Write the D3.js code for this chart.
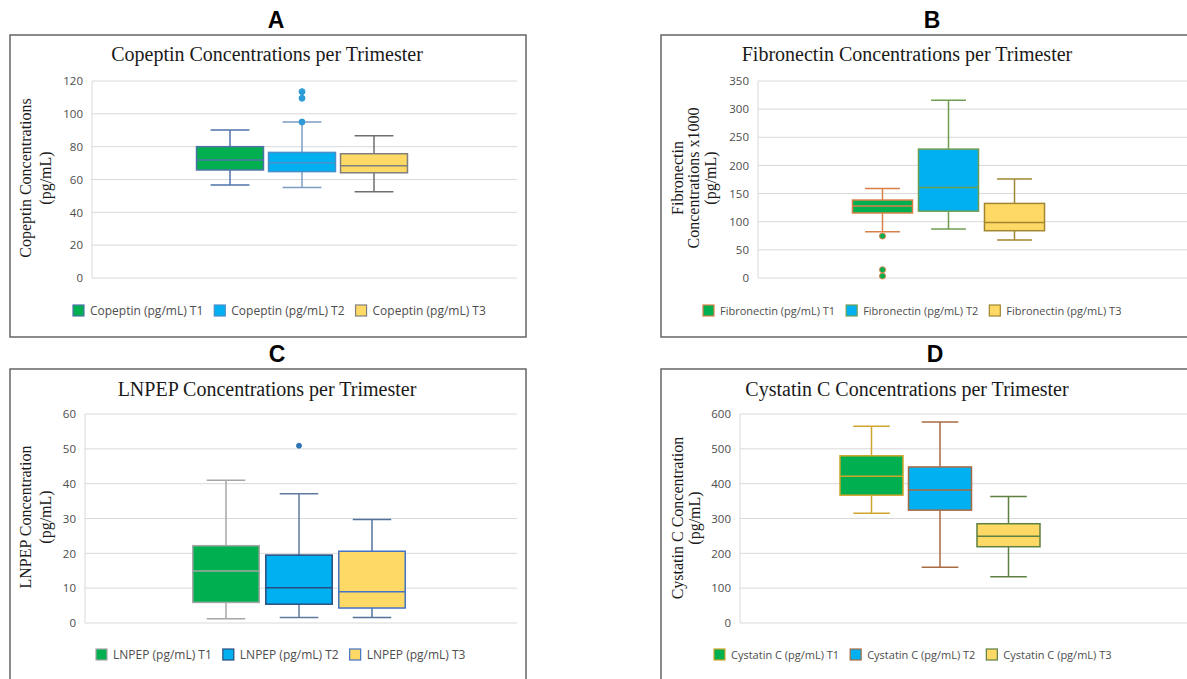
<!DOCTYPE html>
<html>
<head>
<meta charset="utf-8">
<script src="https://cdn.jsdelivr.net/npm/d3@7"></script>
<style>
  body { margin: 0; background: #fff; }
  svg { display: block; }
  .tick text { font-family: "Open Sans", sans-serif; font-size: 11.5px; fill: #4d4d4d; }
</style>
</head>
<body>
<div id="chart"></div>
<script>
/*series names shared by all four panels*/
var series = ["T1", "T2", "T3"];

/*box statistics: [low whisker, q1, median, q3, high whisker]*/
var copeptinBoxes = [[56.6, 65.8, 71.9, 80.0, 90.1], [55.2, 64.8, 70.2, 76.5, 95.0], [52.6, 64.1, 68.4, 75.7, 86.7]];
var copeptinOutliers = [["T2", 113.5], ["T2", 109.5], ["T2", 95.0]];
var copeptinTicks = [0, 20, 40, 60, 80, 100, 120];

var fibronectinBoxes = [[82, 115.5, 127.8, 138.5, 159], [87, 118.7, 161, 229, 316], [67.5, 84, 98.6, 132.5, 176]];
var fibronectinOutliers = [["T1", 74.5], ["T1", 14.7], ["T1", 3.5]];
var fibronectinTicks = [0, 50, 100, 150, 200, 250, 300, 350];

var lnpepBoxes = [[1.2, 5.9, 14.9, 22.2, 41.0], [1.6, 5.4, 10.1, 19.5, 37.1], [1.6, 4.3, 9.0, 20.6, 29.7]];
var lnpepOutliers = [["T2", 50.9]];
var lnpepTicks = [0, 10, 20, 30, 40, 50, 60];

var cystatinBoxes = [[315, 367, 421, 480, 565], [160, 324, 382, 448, 577], [133, 219, 249, 285, 363]];
var cystatinOutliers = [];
var cystatinTicks = [0, 100, 200, 300, 400, 500, 600];

var svg = d3.select("#chart").append("svg")
  .attr("width", 1187)
  .attr("height", 679);

/*panel layouts: frame, plot area, box group placement and colours*/
var panels = [
  {letter: "A", lx: 276, ly: 28, frame: [10, 35, 526, 337],
   title: "Copeptin Concentrations per Trimester", tx: 267, ty: 61,
   ylab: ["Copeptin Concentrations", "(pg/mL)"], labX: 25, labGap: 20, labY: 178,
   plot: [92, 81, 517, 278], center: 302, step: 72, pad: 0.07,
   boxes: copeptinBoxes, outliers: copeptinOutliers, ticks: copeptinTicks,
   legend: "Copeptin (pg/mL) ", legX: 73, legY: 315, legSize: 12,
   fill: ["#00B050", "#00B0F0", "#FFD966"],
   stroke: ["#4F73A8", "#4A8FC9", "#7F7F7F"],
   whisker: ["#4F73A8", "#7C9CC4", "#6F6F6F"],
   dot: {fill: "#2E9BD6", stroke: "#2E9BD6", r: 3}},
  {letter: "B", lx: 932, ly: 28, frame: [661, 35, 1200, 337],
   title: "Fibronectin Concentrations per Trimester", tx: 907, ty: 61,
   ylab: ["Fibronectin", "Concentrations x1000", "(pg/mL)"], labX: 677, labGap: 16.5, labY: 178,
   plot: [758, 81, 1200, 278], center: 948.5, step: 66, pad: 0.09,
   boxes: fibronectinBoxes, outliers: fibronectinOutliers, ticks: fibronectinTicks,
   legend: "Fibronectin (pg/mL) ", legX: 703, legY: 315, legSize: 11,
   fill: ["#00B050", "#00B0F0", "#FFD966"],
   stroke: ["#D9804A", "#6F9E52", "#A08630"],
   whisker: ["#D9804A", "#6F9E52", "#A08630"],
   dot: {fill: "#00B050", stroke: "#D9804A", r: 3}},
  {letter: "C", lx: 277, ly: 362, frame: [10, 369, 526, 700],
   title: "LNPEP Concentrations per Trimester", tx: 267, ty: 396,
   ylab: ["LNPEP Concentration", "(pg/mL)"], labX: 25, labGap: 20, labY: 517,
   plot: [85, 414, 517, 623], center: 299, step: 73, pad: 0.09,
   boxes: lnpepBoxes, outliers: lnpepOutliers, ticks: lnpepTicks,
   legend: "LNPEP (pg/mL) ", legX: 96, legY: 659, legSize: 12,
   fill: ["#00B050", "#00B0F0", "#FFD966"],
   stroke: ["#A6A6A6", "#2B4C7E", "#4472C4"],
   whisker: ["#A6A6A6", "#5F7A9E", "#52739C"],
   dot: {fill: "#2E75B6", stroke: "#2E75B6", r: 2.5}},
  {letter: "D", lx: 935, ly: 362, frame: [661, 369, 1200, 700],
   title: "Cystatin C Concentrations per Trimester", tx: 907, ty: 396,
   ylab: ["Cystatin C Concentration", "(pg/mL)"], labX: 677, labGap: 17, labY: 518,
   plot: [740, 414, 1200, 623], center: 940, step: 68.5, pad: 0.08,
   boxes: cystatinBoxes, outliers: cystatinOutliers, ticks: cystatinTicks,
   legend: "Cystatin C (pg/mL) ", legX: 714, legY: 659, legSize: 11,
   fill: ["#00B050", "#00B0F0", "#FFD966"],
   stroke: ["#CFA52B", "#AA6A42", "#5E8040"],
   whisker: ["#CFA52B", "#AA6A42", "#5E8040"],
   dot: {fill: "#000", stroke: "#000", r: 3}}
];

panels.forEach(drawPanel);

function drawPanel(p) {
  var g = svg.append("g");

  /*panel letter above the frame*/
  svg.append("text")
    .attr("x", p.lx).attr("y", p.ly)
    .attr("text-anchor", "middle")
    .style("font-family", "'Liberation Sans', Arial, sans-serif")
    .style("font-weight", "bold")
    .style("font-size", "23px")
    .text(p.letter);

  /*frame*/
  g.append("rect")
    .attr("x", p.frame[0]).attr("y", p.frame[1])
    .attr("width", p.frame[2] - p.frame[0]).attr("height", p.frame[3] - p.frame[1])
    .attr("fill", "#fff")
    .attr("stroke", "#666")
    .attr("stroke-width", 1.5);

  /*title*/
  g.append("text")
    .attr("x", p.tx).attr("y", p.ty)
    .attr("text-anchor", "middle")
    .style("font-family", "'Liberation Serif', 'Times New Roman', serif")
    .style("font-size", "20px")
    .style("fill", "#1a1a1a")
    .text(p.title);

  /*scales*/
  var yScale = d3.scaleLinear()
    .domain(d3.extent(p.ticks))
    .range([p.plot[3], p.plot[1]]);
  var xScale = d3.scaleBand()
    .domain(series)
    .range([p.center - 1.5 * p.step, p.center + 1.5 * p.step])
    .paddingInner(p.pad)
    .paddingOuter(p.pad / 2);

  /*gridlines*/
  g.selectAll(".grid")
    .data(p.ticks)
    .enter().append("line")
    .attr("x1", p.plot[0]).attr("x2", p.plot[2])
    .attr("y1", d => yScale(d)).attr("y2", d => yScale(d))
    .attr("stroke", "#D9D9D9")
    .attr("stroke-width", 1);

  g.append("line")
    .attr("x1", p.plot[0]).attr("x2", p.plot[0])
    .attr("y1", p.plot[1]).attr("y2", p.plot[3])
    .attr("stroke", "#D9D9D9");

  /*y axis labels*/
  var axis = g.append("g")
    .attr("transform", `translate(${p.plot[0]},0)`)
    .call(d3.axisLeft(yScale).tickValues(p.ticks).tickSize(0).tickPadding(9));
  axis.select(".domain").remove();

  /*y axis title, rotated*/
  p.ylab.forEach(function(line, i) {
    g.append("text")
      .attr("transform", `translate(${p.labX + i * p.labGap},${p.labY}) rotate(-90)`)
      .attr("text-anchor", "middle")
      .attr("dy", "0.35em")
      .style("font-family", "'Liberation Serif', 'Times New Roman', serif")
      .style("font-size", "16px")
      .style("fill", "#1a1a1a")
      .text(line);
  });

  /*box and whisker marks*/
  var bw = xScale.bandwidth();
  var cap = bw * 0.29;
  var boxes = g.selectAll(".box")
    .data(p.boxes.map((b, i) => ({s: series[i], i: i, low: b[0], q1: b[1], med: b[2], q3: b[3], high: b[4]})))
    .enter().append("g");

  boxes.each(function(d) {
    var bg = d3.select(this);
    var cx = xScale(d.s) + bw / 2;
    var wc = p.whisker[d.i];
    /*whiskers*/
    bg.append("line").attr("x1", cx).attr("x2", cx)
      .attr("y1", yScale(d.high)).attr("y2", yScale(d.q3))
      .attr("stroke", wc).attr("stroke-width", 1.5);
    bg.append("line").attr("x1", cx).attr("x2", cx)
      .attr("y1", yScale(d.q1)).attr("y2", yScale(d.low))
      .attr("stroke", wc).attr("stroke-width", 1.5);
    bg.append("line").attr("x1", cx - cap).attr("x2", cx + cap)
      .attr("y1", yScale(d.high)).attr("y2", yScale(d.high))
      .attr("stroke", wc).attr("stroke-width", 1.5);
    bg.append("line").attr("x1", cx - cap).attr("x2", cx + cap)
      .attr("y1", yScale(d.low)).attr("y2", yScale(d.low))
      .attr("stroke", wc).attr("stroke-width", 1.5);
    /*box*/
    bg.append("rect")
      .attr("x", xScale(d.s)).attr("width", bw)
      .attr("y", yScale(d.q3)).attr("height", yScale(d.q1) - yScale(d.q3))
      .attr("fill", p.fill[d.i])
      .attr("stroke", p.stroke[d.i])
      .attr("stroke-width", 1.5);
    /*median*/
    bg.append("line")
      .attr("x1", xScale(d.s)).attr("x2", xScale(d.s) + bw)
      .attr("y1", yScale(d.med)).attr("y2", yScale(d.med))
      .attr("stroke", p.stroke[d.i]).attr("stroke-width", 1.5);
  });

  /*outlier points*/
  g.selectAll(".outlier")
    .data(p.outliers)
    .enter().append("circle")
    .attr("cx", d => xScale(d[0]) + bw / 2)
    .attr("cy", d => yScale(d[1]))
    .attr("r", p.dot.r)
    .attr("fill", p.dot.fill)
    .attr("stroke", p.dot.stroke)
    .attr("stroke-width", 1);

  /*legend laid out left to right*/
  var lx = p.legX;
  series.forEach(function(s, i) {
    g.append("rect")
      .attr("x", lx).attr("y", p.legY - 10)
      .attr("width", 11).attr("height", 11)
      .attr("fill", p.fill[i])
      .attr("stroke", p.stroke[i])
      .attr("stroke-width", 1.2);
    var t = g.append("text")
      .attr("x", lx + 17).attr("y", p.legY)
      .style("font-family", "'Open Sans', sans-serif")
      .style("font-size", p.legSize + "px")
      .style("fill", "#4d4d4d")
      .text(p.legend + s);
    lx += 17 + t.node().getComputedTextLength() + 11;
  });
}
</script>
</body>
</html>
